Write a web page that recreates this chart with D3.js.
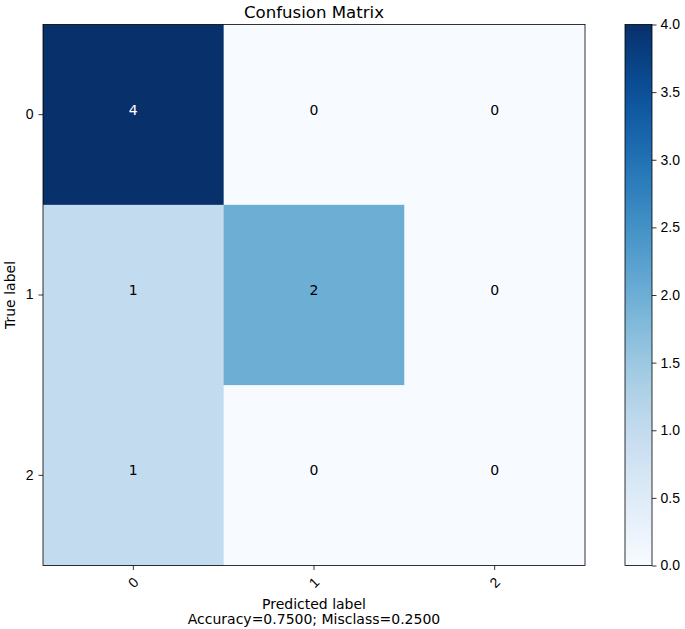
<!DOCTYPE html>
<html>
<head>
<meta charset="utf-8">
<script src="https://cdn.jsdelivr.net/npm/d3@7"></script>
<style>
  body { margin: 0; background: #fff; }
  svg { display: block; font-family: "DejaVu Sans", sans-serif; }
</style>
</head>
<body>
<svg id="chart" width="685" height="629"></svg>
<script>
const classes = ["0", "1", "2"];
const matrix = [
  [4, 0, 0],
  [1, 2, 0],
  [1, 0, 0]
];
const cbTicks = [0.0, 0.5, 1.0, 1.5, 2.0, 2.5, 3.0, 3.5, 4.0];
const titleText = "Confusion Matrix";
const xLabel = "Predicted label";
const xSubLabel = "Accuracy=0.7500; Misclass=0.2500";
const yLabel = "True label";

const svg = d3.select("#chart");
const plot = { left: 43, right: 585, top: 24.5, bottom: 565.5 };
const cb = { left: 625, right: 652 };

const x = d3.scaleBand().domain(classes).range([plot.left, plot.right]);
const y = d3.scaleBand().domain(classes).range([plot.top, plot.bottom]);
const vmax = d3.max(matrix.flat());
const color = d3.scaleSequential(d3.interpolateBlues).domain([0, vmax]);

const cells = [];
matrix.forEach((row, i) => row.forEach((v, j) => cells.push({ r: classes[i], c: classes[j], v })));

svg.append("g").selectAll("rect").data(cells).join("rect")
  .attr("x", d => x(d.c)).attr("y", d => y(d.r))
  .attr("width", x.bandwidth() + 0.5).attr("height", y.bandwidth() + 0.5)
  .attr("fill", d => color(d.v));

const thresh = vmax / 2;
svg.append("g").selectAll("text").data(cells).join("text")
  .attr("x", d => x(d.c) + x.bandwidth() / 2)
  .attr("y", d => y(d.r) + y.bandwidth() / 2)
  .attr("text-anchor", "middle")
  .attr("font-size", 14)
  .attr("fill", d => d.v > thresh ? "#ffffff" : "#000000")
  .text(d => d.v);

svg.append("rect")
  .attr("x", plot.left).attr("y", plot.top)
  .attr("width", plot.right - plot.left).attr("height", plot.bottom - plot.top)
  .attr("fill", "none").attr("stroke", "#000").attr("stroke-width", 0.8);

// axes
const xAxis = svg.append("g").attr("transform", `translate(0,${plot.bottom})`)
  .call(d3.axisBottom(x).tickSize(4.5).tickPadding(4));
xAxis.select(".domain").remove();
xAxis.selectAll("text")
  .attr("font-size", 14).attr("fill", "#000")
  .attr("text-anchor", "middle").attr("dy", null).attr("y", 0)
  .attr("dominant-baseline", "central")
  .attr("transform", "translate(0,17) rotate(-45)");
xAxis.selectAll("line").attr("stroke", "#000").attr("stroke-width", 0.8);

const yAxis = svg.append("g").attr("transform", `translate(${plot.left},0)`)
  .call(d3.axisLeft(y).tickSize(4.5).tickPadding(5));
yAxis.select(".domain").remove();
yAxis.selectAll("text").attr("font-size", 14).attr("fill", "#000");
yAxis.selectAll("line").attr("stroke", "#000").attr("stroke-width", 0.8);

// colorbar
const cbScale = d3.scaleLinear().domain([0, vmax]).range([plot.bottom, plot.top]);
const defs = svg.append("defs");
const grad = defs.append("linearGradient").attr("id", "cbgrad")
  .attr("x1", "0").attr("y1", "1").attr("x2", "0").attr("y2", "0");
d3.range(0, 1.0001, 0.05).forEach(t => {
  grad.append("stop").attr("offset", t).attr("stop-color", d3.interpolateBlues(t));
});
svg.append("rect")
  .attr("x", cb.left).attr("y", plot.top)
  .attr("width", cb.right - cb.left).attr("height", plot.bottom - plot.top)
  .attr("fill", "url(#cbgrad)").attr("stroke", "#000").attr("stroke-width", 0.8);
const cbAxis = svg.append("g").attr("transform", `translate(${cb.right},0)`)
  .call(d3.axisRight(cbScale).tickValues(cbTicks).tickFormat(d3.format(".1f")).tickSize(4.5).tickPadding(4));
cbAxis.select(".domain").remove();
cbAxis.selectAll("text").attr("font-size", 14).attr("fill", "#000");
cbAxis.selectAll("line").attr("stroke", "#000").attr("stroke-width", 0.8);

// labels
svg.append("text").attr("x", (plot.left + plot.right) / 2).attr("y", 18)
  .attr("text-anchor", "middle").attr("font-size", 16.6).attr("fill", "#000").text(titleText);
svg.append("text").attr("x", (plot.left + plot.right) / 2).attr("y", 609)
  .attr("text-anchor", "middle").attr("font-size", 14).attr("fill", "#000").text(xLabel);
svg.append("text").attr("x", (plot.left + plot.right) / 2).attr("y", 624)
  .attr("text-anchor", "middle").attr("font-size", 14).attr("fill", "#000").text(xSubLabel);
svg.append("text")
  .attr("transform", `translate(15,${(plot.top + plot.bottom) / 2}) rotate(-90)`)
  .attr("text-anchor", "middle").attr("font-size", 14).attr("fill", "#000").text(yLabel);
</script>
</body>
</html>
